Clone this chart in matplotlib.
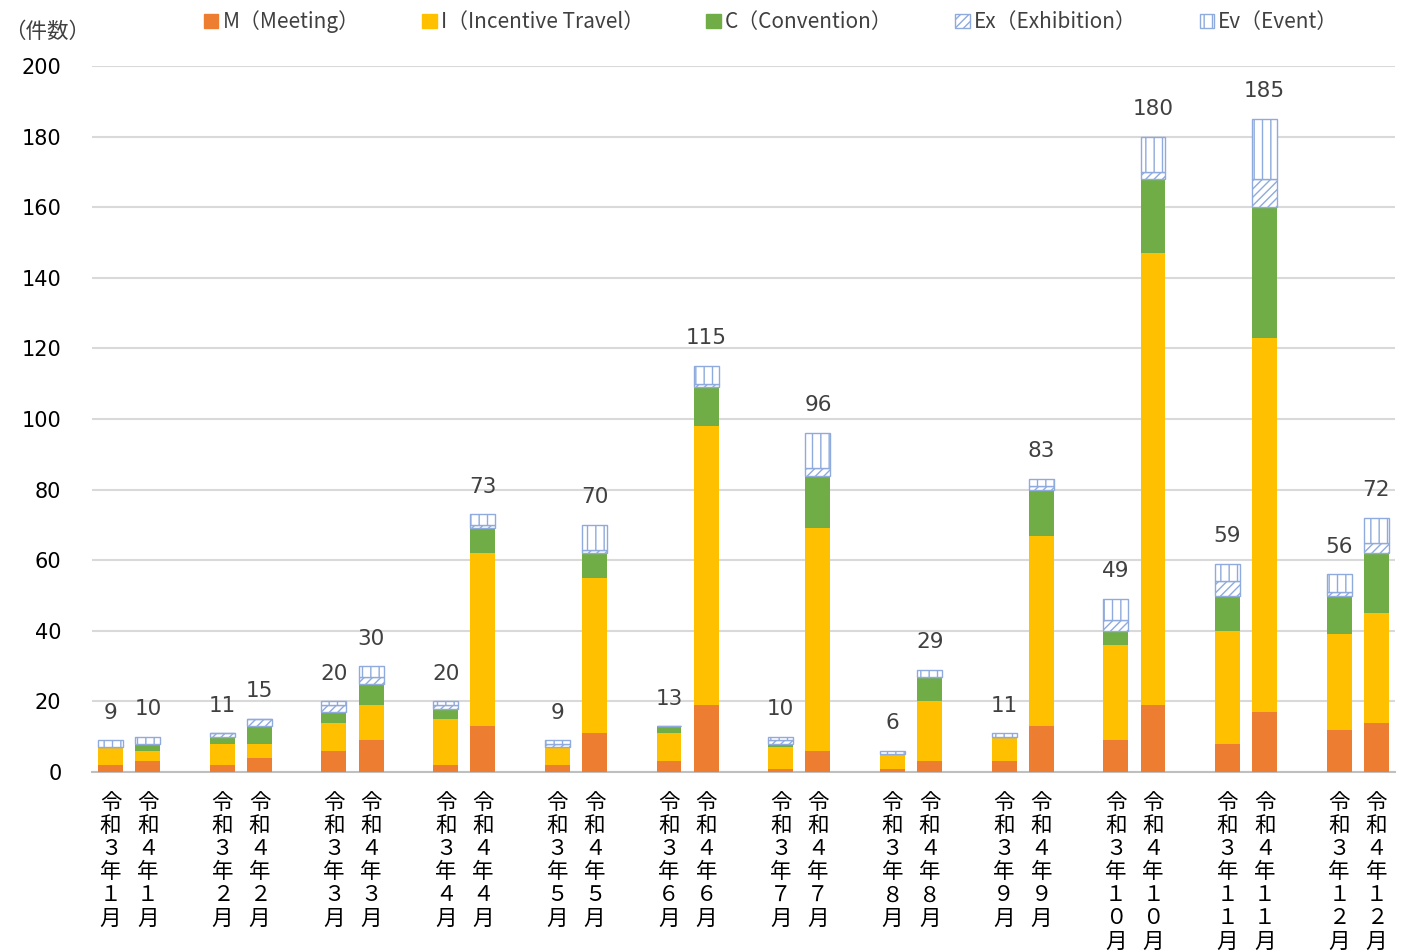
import numpy as np
import matplotlib
matplotlib.use("Agg")
import matplotlib.pyplot as plt
from matplotlib.patches import Patch

plt.rcParams['font.family'] = ['Noto Sans CJK JP', 'DejaVu Sans']
plt.rcParams['hatch.linewidth'] = 1.0

# month pairs: 令和3年 then 令和4年 for each month
months = [1, 2, 3, 4, 5, 6, 7, 8, 9, 10, 11, 12]
years = [3, 4]

# values in order R3-Jan, R4-Jan, R3-Feb, R4-Feb, ...
meeting    = [2, 3, 2, 4, 6, 9, 2, 13, 2, 11, 3, 19, 1, 6, 1, 3, 3, 13, 9, 19, 8, 17, 12, 14]
incentive  = [5, 3, 6, 4, 8, 10, 13, 49, 5, 44, 8, 79, 6, 63, 4, 17, 7, 54, 27, 128, 32, 106, 27, 31]
convention = [0, 2, 2, 5, 3, 6, 3, 7, 0, 7, 2, 11, 1, 15, 0, 7, 0, 13, 4, 21, 10, 37, 11, 17]
exhibition = [0, 0, 1, 2, 2, 2, 1, 1, 1, 1, 0, 1, 1, 2, 0, 0, 0, 1, 3, 2, 4, 8, 1, 3]
event      = [2, 2, 0, 0, 1, 3, 1, 3, 1, 7, 0, 5, 1, 10, 1, 2, 1, 2, 6, 10, 5, 17, 5, 7]

legend_labels = ['M（Meeting）', 'I（Incentive Travel）', 'C（Convention）',
                 'Ex（Exhibition）', 'Ev（Event）']

c_m = '#ED7D31'
c_i = '#FFC000'
c_c = '#70AD47'
c_line = '#8FAADC'
txt = '#404040'

fw = str.maketrans('0123456789', '０１２３４５６７８９')


def make_label(y, m):
    s = '令和' + str(y) + '年' + str(m) + '月'
    return '\n'.join(s.translate(fw))


labels = []
xpos = []
for i, m in enumerate(months):
    for j, y in enumerate(years):
        labels.append(make_label(y, m))
        xpos.append(i * 3 + j)
xpos = np.array(xpos)

M = np.array(meeting)
I = np.array(incentive)
C = np.array(convention)
Ex = np.array(exhibition)
Ev = np.array(event)
total = M + I + C + Ex + Ev

fig = plt.figure(figsize=(14.02, 9.52), dpi=100)
ax = fig.add_axes([0.0656, 0.189, 0.9294, 0.7417])

w = 0.67
ax.bar(xpos, M, w, color=c_m, zorder=3)
ax.bar(xpos, I, w, bottom=M, color=c_i, zorder=3)
ax.bar(xpos, C, w, bottom=M + I, color=c_c, zorder=3)
ax.bar(xpos, Ex, w, bottom=M + I + C, facecolor='white', edgecolor=c_line,
       hatch='////', linewidth=1.0, zorder=3)
ax.bar(xpos, Ev, w, bottom=M + I + C + Ex, facecolor='white', edgecolor=c_line,
       hatch='||', linewidth=1.0, zorder=3)

for x, t in zip(xpos, total):
    ax.text(x, t + 5, str(t), ha='center', va='bottom', fontsize=15.5,
            color=txt, family=['DejaVu Sans'])

ax.set_xlim(-0.5, 34.5)
ax.set_ylim(0, 200)
ax.set_yticks(np.arange(0, 201, 20))
ax.yaxis.grid(True, color='#D9D9D9', linewidth=1.5, zorder=0)
ax.set_axisbelow(True)
for s in ['top', 'right', 'left']:
    ax.spines[s].set_visible(False)
ax.spines['bottom'].set_color('#BFBFBF')
ax.spines['bottom'].set_linewidth(1.5)
ax.tick_params(axis='y', length=0, labelsize=15, pad=22, colors='black')
for lab in ax.get_yticklabels():
    lab.set_fontfamily(['DejaVu Sans'])
ax.set_xticks(xpos)
ax.set_xticklabels(labels, fontsize=15.5, linespacing=1.07, va='top')
ax.tick_params(axis='x', length=0, pad=14)

fig.text(0.003, 0.966, '（件数）', fontsize=15.5, color=txt, ha='left', va='center')

handles = [
    Patch(facecolor=c_m, edgecolor=c_m),
    Patch(facecolor=c_i, edgecolor=c_i),
    Patch(facecolor=c_c, edgecolor=c_c),
    Patch(facecolor='white', edgecolor=c_line, hatch='////'),
    Patch(facecolor='white', edgecolor=c_line, hatch='||'),
]
leg = fig.legend(handles, legend_labels, loc='center', bbox_to_anchor=(0.55, 0.977),
                 ncol=5, frameon=False, fontsize=15, handlelength=0.7,
                 handleheight=0.7, handletextpad=0.2, columnspacing=3.0)
for t in leg.get_texts():
    t.set_color(txt)

fig.savefig('out.png', dpi=100)
